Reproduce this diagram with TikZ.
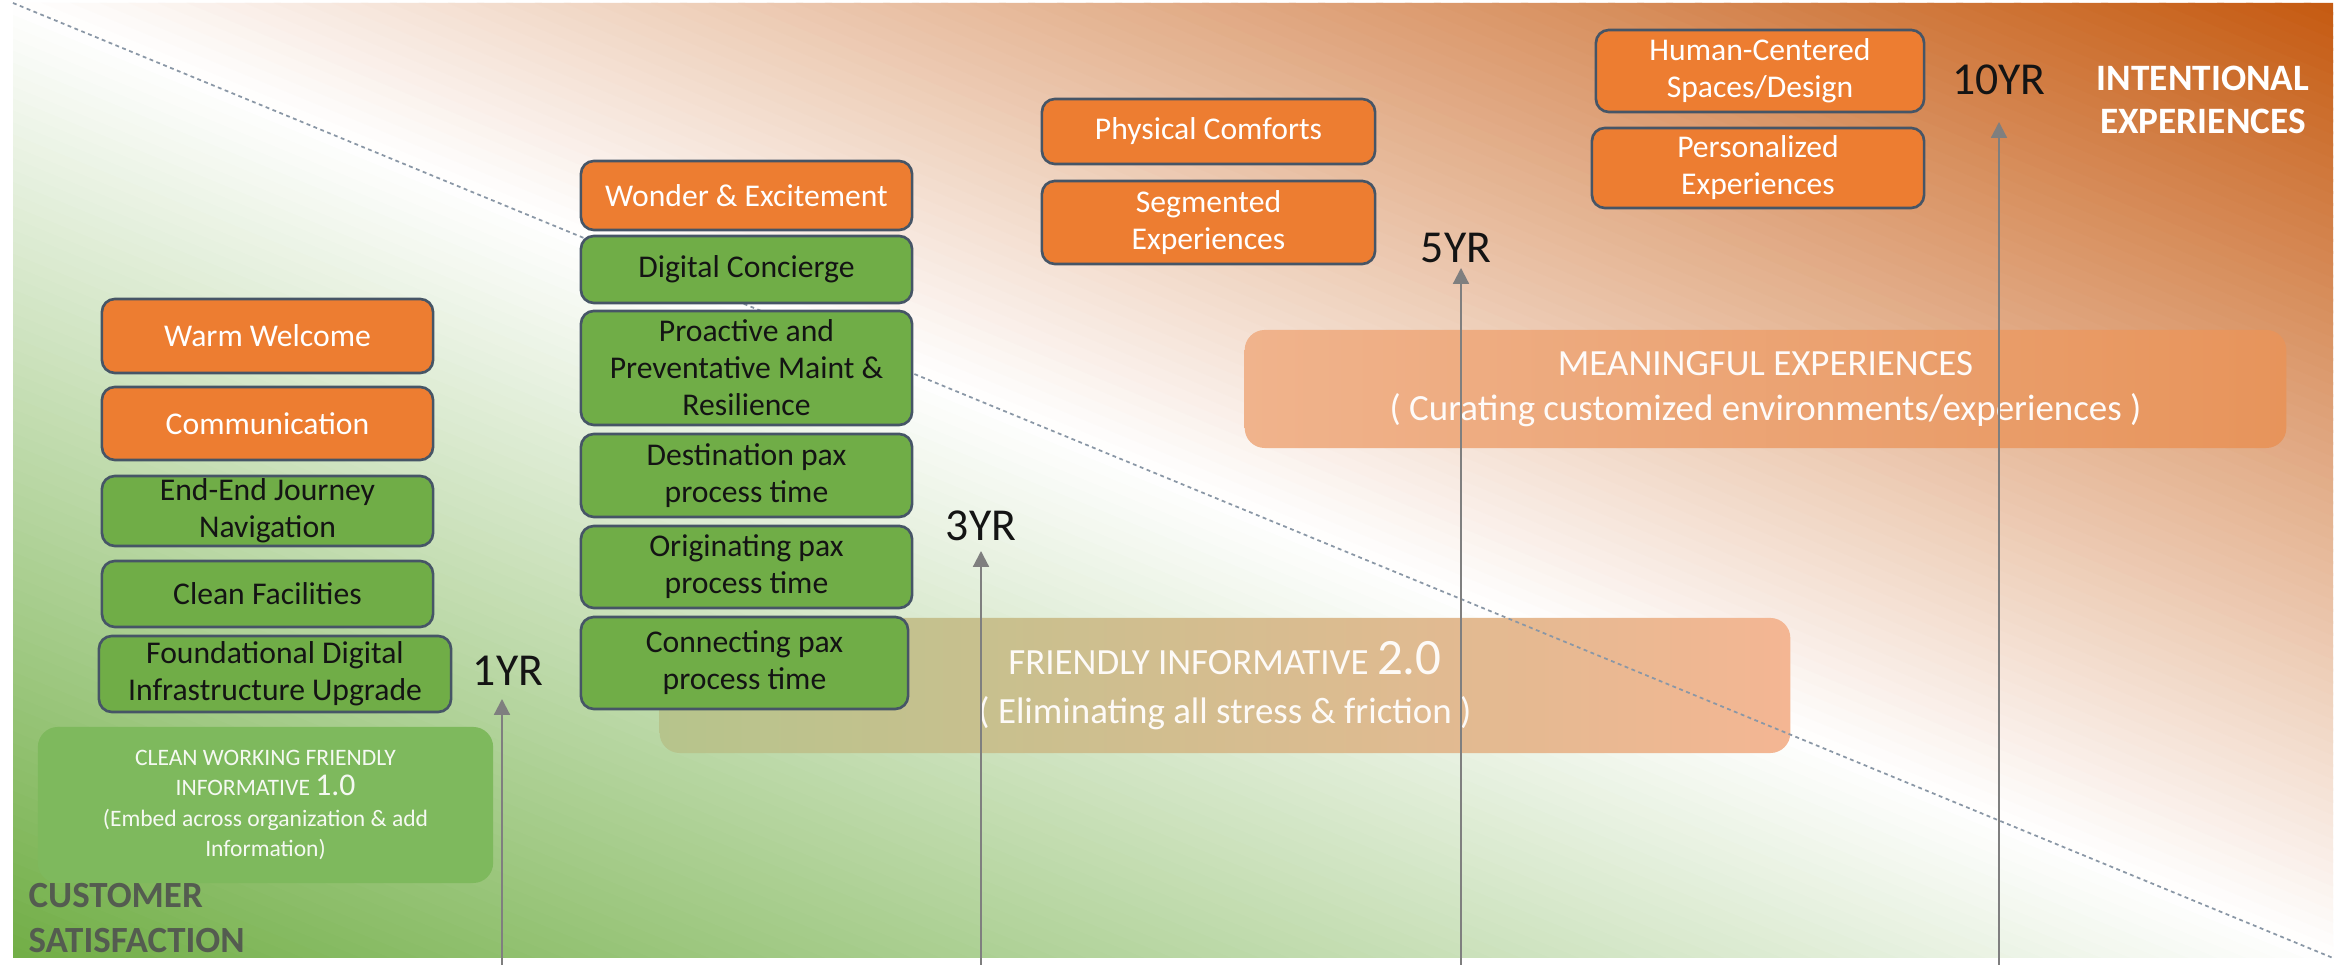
\documentclass[tikz,border=0pt]{standalone}
\usepackage{fontspec}
\setmainfont{Carlito}
\usetikzlibrary{arrows.meta}
\definecolor{bggreen}{HTML}{71AE46}
\definecolor{bgorange}{HTML}{C55A11}
\definecolor{boxorange}{HTML}{ED7D31}
\definecolor{boxgreen}{HTML}{70AD47}
\definecolor{boxline}{HTML}{465566}
\definecolor{arrowgray}{HTML}{7F7F7F}
\definecolor{dotgray}{HTML}{8A97A6}
\definecolor{labelgray}{HTML}{545C50}
\definecolor{bandonegreen}{HTML}{7EB95D}
\definecolor{bandtwoleft}{HTML}{B6C48C}
\definecolor{bandtwomid}{HTML}{E8C3A0}
\definecolor{bandtworight}{HTML}{F4B693}
\definecolor{bandthreeleft}{HTML}{F0B38C}
\definecolor{bandthreeright}{HTML}{E7945B}
\definecolor{darktext}{HTML}{141414}
\tikzset{
  card/.style={draw=boxline, line width=0.75pt, rounded corners=0.13cm, inner sep=0pt, align=center, font=\fontsize{9}{10.5}\selectfont},
  ocard/.style={card, fill=boxorange, text=white},
  gcard/.style={card, fill=boxgreen, text=darktext},
  yrlabel/.style={font=\fontsize{13}{13}\selectfont, text=darktext, inner sep=0pt},
  yrarrow/.style={draw=arrowgray, line width=0.6pt, -{Triangle[width=4.5pt,length=4.5pt]}},
  band/.style={rounded corners=0.2cm, inner sep=0pt, align=center},
}
\begin{document}
\begin{tikzpicture}[x=0.01cm, y=-0.01cm]
\useasboundingbox (0,0) rectangle (2341,965);
\fill[white] (0,0) rectangle (2341,965);
% background gradient: green (bottom-left) -> white (diagonal) -> orange (top-right)
\begin{scope}
  \clip (13,3) rectangle (2333,958);
  \foreach \i in {0,...,159}{
    \pgfmathsetmacro{\sa}{\i/80}
    \pgfmathsetmacro{\sb}{(\i+1)/80+0.003}
    \pgfmathsetmacro{\sm}{(\i+0.5)/80}
    \ifdim\sm pt<1pt
      \pgfmathsetmacro{\pc}{100*(1-\sm)}
      \colorlet{stripcol}{bggreen!\pc!white}
    \else
      \pgfmathsetmacro{\pc}{100*(\sm-1)}
      \colorlet{stripcol}{bgorange!\pc!white}
    \fi
    \fill[stripcol] ({13+2320*\sa},958) -- ({13+2320*\sb},958) -- ({13+2320*(\sb-1)},3) -- ({13+2320*(\sa-1)},3) -- cycle;
  }
\end{scope}

% bands
\node[band, minimum width=4.55cm, minimum height=1.56cm, fill=bandonegreen, text=white!92!bandonegreen, font=\fontsize{6.7}{8.7}\selectfont] (b1) at (265.5,805) {CLEAN WORKING FRIENDLY\\INFORMATIVE {\fontsize{9}{8.7}\selectfont 1.0}\\(Embed across organization \& add\\Information)};
\node[band, minimum width=11.30cm, minimum height=1.35cm, left color=bandtwoleft, middle color=bandtwomid, right color=bandtworight, text=white!92!bandtwomid, font=\fontsize{10.5}{14}\selectfont] (b2) at (1225,685.5) {FRIENDLY INFORMATIVE {\fontsize{14.5}{14}\selectfont 2.0}\\( Eliminating all stress \& friction )};
\node[band, minimum width=10.41cm, minimum height=1.18cm, left color=bandthreeleft, right color=bandthreeright, text=white!95!bandthreeleft, font=\fontsize{10.5}{12.8}\selectfont] (b3) at (1765.5,389) {MEANINGFUL EXPERIENCES\\( Curating customized environments/experiences )};

% dotted diagonal
\coordinate (dl1) at (13,3);
\coordinate (dl2) at (2333,958);
\draw[dotgray, line width=0.5pt, dash pattern=on 1.1pt off 1pt] (dl1) -- (dl2);

% column 1
\node[ocard, minimum width=3.31cm, minimum height=0.74cm] (ww) at (267.5,336) {Warm Welcome};
\node[ocard, minimum width=3.31cm, minimum height=0.73cm] (comm) at (267.5,423.5) {Communication};
\node[gcard, minimum width=3.31cm, minimum height=0.70cm] (e2e) at (267.5,511) {End-End Journey\\Navigation};
\node[gcard, minimum width=3.31cm, minimum height=0.66cm] (clean) at (267.5,594) {Clean Facilities};
\node[gcard, minimum width=3.52cm, minimum height=0.76cm] (found) at (275,674) {Foundational Digital\\Infrastructure Upgrade};

% column 2
\node[ocard, minimum width=3.31cm, minimum height=0.69cm] (wonder) at (746.5,195.5) {Wonder \& Excitement};
\node[gcard, minimum width=3.31cm, minimum height=0.67cm] (dig) at (746.5,269.5) {Digital Concierge};
\node[gcard, minimum width=3.31cm, minimum height=1.14cm] (proact) at (746.5,368) {Proactive and\\Preventative Maint \&\\Resilience};
\node[gcard, minimum width=3.31cm, minimum height=0.83cm] (dest) at (746.5,475.5) {Destination pax\\process time};
\node[gcard, minimum width=3.31cm, minimum height=0.82cm] (orig) at (746.5,567) {Originating pax\\process time};
\node[gcard, minimum width=3.27cm, minimum height=0.92cm] (conn) at (744.5,663) {Connecting pax\\process time};

% column 3
\node[ocard, minimum width=3.33cm, minimum height=0.65cm] (phys) at (1208.5,131.5) {Physical Comforts};
\node[ocard, minimum width=3.33cm, minimum height=0.83cm] (seg) at (1208.5,222.5) {Segmented\\Experiences};

% column 4
\node[ocard, minimum width=3.28cm, minimum height=0.82cm] (human) at (1760,71) {Human-Centered\\Spaces/Design};
\node[ocard, minimum width=3.32cm, minimum height=0.80cm] (pers) at (1758,168) {Personalized\\Experiences};

% year labels
\node[yrlabel] (y1) at (508,671) {1YR};
\node[yrlabel] (y3) at (981,526) {3YR};
\node[yrlabel] (y5) at (1456,248) {5YR};
\node[yrlabel] (y10) at (1999,80) {10YR};

% arrows
\coordinate (a1s) at (502,965);  \coordinate (a1e) at (502,699);
\coordinate (a3s) at (981,965);  \coordinate (a3e) at (981,551);
\coordinate (a5s) at (1461,965); \coordinate (a5e) at (1461,268);
\coordinate (a10s) at (1999,965); \coordinate (a10e) at (1999,122);
\draw[yrarrow] (a1s) -- (a1e);
\draw[yrarrow] (a3s) -- (a3e);
\draw[yrarrow] (a5s) -- (a5e);
\draw[yrarrow] (a10s) -- (a10e);

% corner titles
\node[anchor=west, align=left, inner sep=0pt, text=labelgray, font=\bfseries\fontsize{10.5}{12.8}\selectfont] (cs) at (28,918) {CUSTOMER\\SATISFACTION};
\node[align=center, inner sep=0pt, text=white, font=\bfseries\fontsize{10.6}{12.2}\selectfont] (ie) at (2203,100) {INTENTIONAL\\EXPERIENCES};
\end{tikzpicture}
\end{document}
